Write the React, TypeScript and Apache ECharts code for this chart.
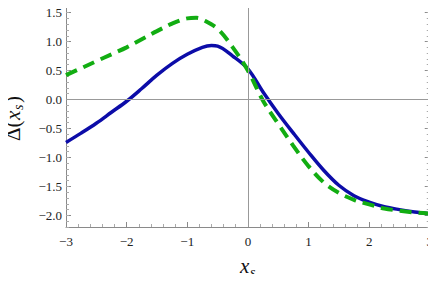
import React, { useEffect, useRef } from "react";
import * as echarts from "echarts";

const xTicks = [-3, -2, -1, 0, 1, 2, 3];
const yTicks = [-2.0, -1.5, -1.0, -0.5, 0.0, 0.5, 1.0, 1.5];

const blueX = [-3, -2.75, -2.5, -2.25, -2, -1.75, -1.5, -1.25, -1, -0.75, -0.6, -0.5, -0.25, 0, 0.25, 0.5, 0.75, 1, 1.25, 1.5, 1.75, 2, 2.25, 2.5, 2.75, 3];
const blueY = [-0.74, -0.58, -0.41, -0.22, -0.03, 0.19, 0.42, 0.62, 0.78, 0.9, 0.93, 0.92, 0.75, 0.53, 0.13, -0.24, -0.58, -0.91, -1.22, -1.48, -1.66, -1.77, -1.85, -1.9, -1.94, -1.97];

const greenX = [-3, -2.75, -2.5, -2.25, -2, -1.75, -1.5, -1.25, -1, -0.85, -0.75, -0.5, -0.25, 0, 0.25, 0.5, 0.75, 1, 1.25, 1.5, 1.75, 2, 2.25, 2.5, 2.75, 3];
const greenY = [0.42, 0.54, 0.66, 0.78, 0.9, 1.04, 1.18, 1.31, 1.4, 1.41, 1.38, 1.22, 0.9, 0.5, -0.02, -0.42, -0.8, -1.15, -1.43, -1.61, -1.73, -1.81, -1.88, -1.92, -1.95, -1.97];

const Y_MIN = -2.2;
const Y_MAX = 1.7;

const FONT = "Liberation Serif";

export default function App() {
  const ref = useRef<HTMLDivElement>(null);
  useEffect(() => {
    if (!ref.current) return;
    const chart = echarts.init(ref.current, null, { renderer: "svg" });
    const frame = "#8a8a8a";
    const minorY: number[] = [];
    for (let k = -22; k <= 17; k++) minorY.push(k / 10);

    const yAx = (position: string, values: number[], len: number, labels: boolean, line: boolean) => ({
      type: "value",
      min: Y_MIN,
      max: Y_MAX,
      position,
      axisLine: { show: line, onZero: false, lineStyle: { color: frame, width: 1 } },
      axisTick: { show: true, inside: true, length: len, customValues: values, lineStyle: { color: len > 4 ? frame : "#aaaaaa" } },
      axisLabel: labels
        ? {
            show: true,
            customValues: yTicks,
            color: "#222",
            fontFamily: FONT,
            fontSize: 13,
            margin: 4,
            formatter: (v: number) => (v < -1e-9 ? "\u2212" + Math.abs(v).toFixed(1) : Math.abs(v).toFixed(1)),
          }
        : { show: false },
      splitLine: { show: false },
    });

    const xAx = (position: string, labels: boolean) => ({
      type: "value",
      min: -3,
      max: 3,
      interval: 1,
      position,
      axisLine: { show: true, onZero: false, lineStyle: { color: frame, width: 1 } },
      axisTick: { show: true, inside: true, length: 5, lineStyle: { color: frame } },
      minorTick: { show: true, splitNumber: 5, length: 3, lineStyle: { color: "#aaaaaa" } },
      splitLine: { show: false },
      axisLabel: labels
        ? {
            show: true,
            color: "#222",
            fontFamily: FONT,
            fontSize: 13,
            margin: 8,
            formatter: (v: number) => (xTicks.includes(v) ? (v < 0 ? "\u2212" + Math.abs(v) : String(v)) : ""),
          }
        : { show: false },
    });

    const txt = (text: string, x: number, y: number, size: number, italic: boolean) => ({
      type: "text",
      x,
      y,
      style: {
        text,
        fontFamily: FONT,
        fontSize: size,
        fontStyle: italic ? "italic" : "normal",
        fill: "#111",
        align: "left",
        verticalAlign: "middle",
      },
    });

    chart.setOption({
      animation: false,
      grid: { left: 66, right: 4, top: 1, bottom: 55 },
      xAxis: [xAx("bottom", true), xAx("top", false)],
      yAxis: [
        yAx("left", yTicks, 5, true, true),
        yAx("left", minorY, 3, false, false),
        yAx("right", yTicks, 5, false, true),
        yAx("right", minorY, 3, false, false),
      ],
      series: [
        {
          type: "line",
          data: [],
          z: 1,
          markLine: {
            silent: true,
            symbol: "none",
            label: { show: false },
            lineStyle: { color: "#999", type: "solid", width: 1 },
            data: [{ xAxis: 0 }, { yAxis: 0 }],
          },
        },
        {
          type: "line",
          z: 3,
          data: greenX.map((x, i) => [x, greenY[i]]),
          smooth: 0.35,
          showSymbol: false,
          lineStyle: { color: "#12ad12", width: 4, type: [12, 7] },
        },
        {
          type: "line",
          z: 2,
          data: blueX.map((x, i) => [x, blueY[i]]),
          smooth: 0.35,
          showSymbol: false,
          lineStyle: { color: "#0c0ca8", width: 3.5 },
        },
      ],
      graphic: [
        {
          type: "group",
          x: 13,
          y: 141,
          rotation: Math.PI / 2,
          children: [
            txt("\u0394(", 0, 0, 21, false),
            txt("x", 21, 0, 21, true),
            txt("s", 31, 5, 14, true),
            txt(")", 38, 0, 21, false),
          ],
        },
        txt("x", 240, 266, 21, true),
        txt("s", 250, 272, 14, true),
      ],
    });
    return () => chart.dispose();
  }, []);
  return <div ref={ref} style={{ width: 436, height: 282, margin: -8 }} />;
}
